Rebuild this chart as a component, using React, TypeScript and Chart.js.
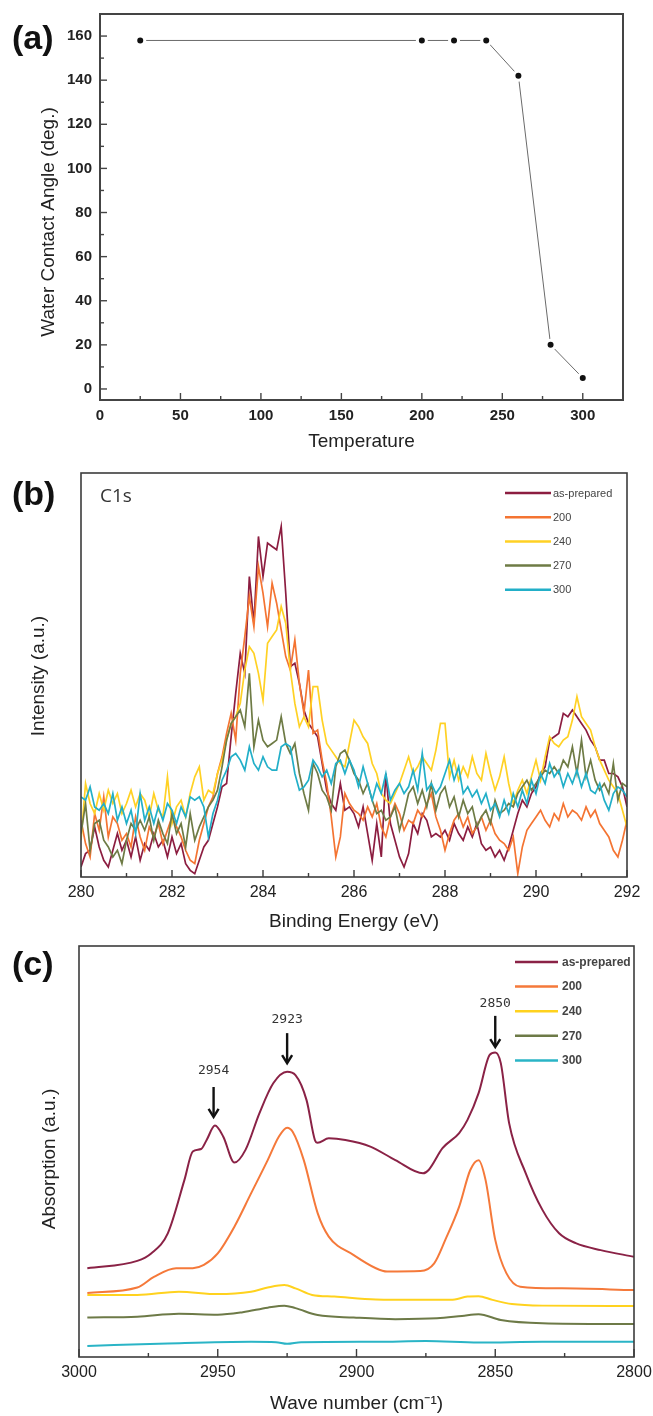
import React, { useEffect, useRef } from "react";
import { Chart, registerables } from "chart.js";

Chart.register(...registerables);

const SANS = '"Liberation Sans", Arial, Helvetica, sans-serif';
Chart.defaults.font.family = SANS;

// ---------------- Panel (a) ----------------
const temperature = [25, 200, 220, 240, 260, 280, 300];
const contactAngle = [158, 158, 158, 158, 142, 20, 5];
const aXTicks = [0, 50, 100, 150, 200, 250, 300];
const aXMinor = [25, 75, 125, 175, 225, 275];
const aYTicks = [0, 20, 40, 60, 80, 100, 120, 140, 160];
const aYMinor = [10, 30, 50, 70, 90, 110, 130, 150];

// ---------------- Panel (b) ----------------
const seriesLabels = ["as-prepared", "200", "240", "270", "300"];
const bindingEnergy = [
  280.0, 280.1, 280.2, 280.3, 280.4, 280.5, 280.6, 280.7, 280.8, 280.9,
  281.0, 281.1, 281.2, 281.3, 281.4, 281.5, 281.6, 281.7, 281.8, 281.9,
  282.0, 282.1, 282.2, 282.3, 282.4, 282.5, 282.6, 282.7, 282.8, 282.9,
  283.0, 283.1, 283.2, 283.3, 283.4, 283.5, 283.6, 283.7, 283.8, 283.9,
  284.0, 284.1, 284.2, 284.3, 284.4, 284.5, 284.6, 284.7, 284.8, 284.9,
  285.0, 285.1, 285.2, 285.3, 285.4, 285.5, 285.6, 285.7, 285.8, 285.9,
  286.0, 286.1, 286.2, 286.3, 286.4, 286.5, 286.6, 286.7, 286.8, 286.9,
  287.0, 287.1, 287.2, 287.3, 287.4, 287.5, 287.6, 287.7, 287.8, 287.9,
  288.0, 288.1, 288.2, 288.3, 288.4, 288.5, 288.6, 288.7, 288.8, 288.9,
  289.0, 289.1, 289.2, 289.3, 289.4, 289.5, 289.6, 289.7, 289.8, 289.9,
  290.0, 290.1, 290.2, 290.3, 290.4, 290.5, 290.6, 290.7, 290.8, 290.9,
  291.0, 291.1, 291.2, 291.3, 291.4, 291.5, 291.6, 291.7, 291.8, 291.9,
  292.0,
];
const xpsAsPrepared = [
  3, 7, 8, 15, 9, 5, 3, 8, 13, 8,
  11, 6, 12, 5, 10, 8, 13, 9, 11, 6,
  12, 7, 10, 4, 2, 1, 5, 9, 11, 16,
  21, 27, 28, 42, 55, 67, 61, 90, 76, 102,
  90, 100, 99, 98, 105, 85, 63, 64, 58, 50,
  46, 44, 42, 34, 26, 22, 20, 28, 20, 21,
  19, 15, 21, 13, 5, 16, 6, 31, 16, 11,
  6, 3, 7, 16, 13, 19, 17, 12, 13, 12,
  14, 11, 16, 13, 11, 15, 12, 16, 10, 8,
  9, 6, 8, 5, 9, 14, 19, 23, 21, 25,
  27, 31, 33, 41, 42, 43, 49, 48, 50, 48,
  46, 44, 41, 39, 35, 35, 31, 31, 30, 27,
  21,
];
const xps200 = [
  17, 10, 6, 19, 14, 24, 12, 18, 16, 11,
  13, 9, 18, 12, 8, 15, 12, 16, 10, 14,
  18, 15, 12, 8, 5, 4, 11, 16, 21, 24,
  31, 36, 43, 49, 41, 61, 72, 84, 75, 93,
  85, 75, 88, 82, 74, 66, 62, 71, 58, 49,
  62, 43, 44, 35, 28, 18, 6, 12, 25, 22,
  20, 19, 17, 21, 18, 22, 15, 12, 18, 22,
  19, 14, 17, 16, 20, 18, 22, 25, 18, 14,
  8, 13, 17, 19, 15, 18, 13, 15, 18, 14,
  17, 13, 11, 10, 8, 12, 1, 9, 14, 16,
  18, 20, 17, 15, 19, 17, 22, 18, 20, 19,
  17, 21, 18, 20, 16, 14, 12, 8, 6, 11,
  17,
];
const xps240 = [
  11, 28, 22, 19, 25, 20, 26, 22, 25, 19,
  22, 26, 21, 25, 23, 18, 25, 20, 18, 30,
  16, 21, 23, 18, 25, 30, 33, 23, 26, 25,
  31, 35, 41, 46, 48, 52, 62, 69, 67, 61,
  53, 70, 72, 74, 81, 76, 62, 52, 45, 48,
  45, 57, 57, 47, 40, 38, 36, 34, 33, 40,
  47, 45, 42, 40, 34, 31, 25, 23, 22, 25,
  28, 32, 36, 31, 33, 36, 34, 32, 38, 46,
  46, 30, 35, 29, 33, 30, 36, 31, 29, 37,
  31, 26, 30, 36, 28, 22, 26, 29, 25, 30,
  35, 29, 36, 42, 40, 39, 41, 42, 47, 54,
  48, 46, 44, 39, 35, 32, 29, 27, 25, 20,
  15,
];
const xps270 = [
  13, 22, 8, 16, 17, 11, 9, 6, 8, 4,
  11, 16, 14, 17, 14, 18, 11, 17, 13, 10,
  19, 13, 16, 9, 19, 11, 15, 18, 21, 23,
  26, 33, 41, 46, 48, 50, 45, 61, 39, 47,
  41, 39, 40, 41, 48, 40, 37, 40, 31, 25,
  20, 34, 31, 26, 24, 20, 33, 37, 38, 35,
  31, 29, 25, 28, 23, 19, 20, 17, 18, 21,
  14, 19, 25, 27, 22, 26, 21, 28, 20, 25,
  27, 21, 24, 18, 23, 19, 21, 15, 18, 20,
  16, 23, 19, 20, 22, 21, 25, 27, 29, 26,
  28, 30, 32, 31, 33, 31, 35, 33, 39, 31,
  41, 30, 35, 29, 26, 28, 25, 34, 23, 28,
  27,
];
const xps300 = [
  24, 23, 27, 21, 20, 22, 19, 25, 17, 21,
  16, 20, 13, 25, 17, 21, 16, 21, 17, 22,
  20, 16, 21, 18, 24, 23, 24, 21, 12, 19,
  23, 29, 32, 36, 37, 35, 32, 39, 34, 32,
  36, 33, 32, 32, 39, 40, 39, 31, 26, 27,
  29, 35, 33, 30, 32, 28, 34, 35, 31, 35,
  32, 27, 33, 28, 23, 28, 25, 31, 23, 26,
  28, 25, 27, 32, 26, 37, 26, 28, 25, 27,
  31, 35, 29, 33, 25, 27, 24, 26, 22, 25,
  20, 22, 18, 23, 19, 25, 21, 26, 22, 29,
  25, 31, 28, 34, 30, 32, 27, 31, 28, 32,
  27, 31, 26, 25, 28, 23, 20, 25, 27, 26,
  24,
];
const bXTicks = [280, 282, 284, 286, 288, 290, 292];
const bXMinor = [281, 283, 285, 287, 289, 291];

// ---------------- Panel (c) ----------------
const irAsPreparedWN = [2997, 2979, 2974, 2968, 2962, 2959, 2956, 2954, 2951, 2948, 2944, 2940, 2935, 2930, 2925, 2922, 2918, 2915, 2914, 2910, 2904, 2895, 2886, 2876, 2874, 2869, 2863, 2860, 2856, 2852, 2850, 2848, 2845, 2839, 2833, 2827, 2821, 2812, 2800];
const irAsPreparedAbs = [21.6, 23.4, 25.2, 30.1, 43.1, 50.0, 50.6, 52.8, 56.3, 53.6, 47.3, 50.4, 59.3, 66.6, 69.4, 68.6, 62.5, 52.8, 52.1, 53.2, 52.8, 51.2, 47.9, 44.7, 45.5, 50.8, 54.5, 57.7, 64.2, 73.5, 74.1, 71.5, 56.9, 44.7, 35.8, 30.1, 27.7, 26.0, 24.4];
const ir200WN = [2997, 2979, 2973, 2965, 2959, 2955, 2950, 2944, 2938, 2932, 2928, 2925, 2923, 2919, 2914, 2910, 2901, 2893, 2889, 2877, 2872, 2868, 2863, 2859, 2856, 2853.5, 2850, 2846, 2841, 2826, 2800];
const ir200Abs = [15.6, 16.9, 19.5, 21.6, 21.6, 22.4, 25.2, 31.7, 39.8, 47.9, 53.6, 55.8, 54.8, 47.9, 35.0, 29.3, 24.8, 21.6, 20.8, 20.9, 22.8, 28.5, 36.6, 45.5, 47.9, 43.1, 28.5, 20.4, 17.1, 16.7, 16.3];
const ir240WN = [2997, 2979, 2964, 2950, 2938, 2932, 2926, 2922, 2916, 2908, 2893, 2878, 2866, 2860, 2856, 2851, 2844, 2833, 2800];
const ir240Abs = [15.1, 15.1, 15.9, 15.3, 15.9, 16.9, 17.5, 16.7, 15.1, 14.7, 14.0, 13.9, 13.9, 14.7, 14.8, 13.9, 12.9, 12.5, 12.4];
const ir270WN = [2997, 2979, 2964, 2950, 2941, 2932, 2926, 2922, 2914, 2901, 2886, 2871, 2862, 2856, 2848, 2833, 2800];
const ir270Abs = [9.6, 9.8, 10.5, 10.3, 10.9, 12.0, 12.5, 11.9, 10.2, 9.6, 9.2, 9.4, 10.0, 10.4, 9.0, 8.2, 8.0];
const ir300WN = [2997, 2968, 2938, 2929, 2925, 2920, 2893, 2875, 2856, 2833, 2800];
const ir300Abs = [2.7, 3.3, 3.7, 3.6, 3.2, 3.6, 3.7, 3.9, 3.5, 3.7, 3.7];
const cXTicks = [3000, 2950, 2900, 2850, 2800];
const cXMinor = [2975, 2925, 2875, 2825];
const peakLabels = ["2954", "2923", "2850"];
const peakArrowX = [2951.5, 2925, 2850];
const peakTextY = [69.6, 82.0, 86.1];
const peakArrowTop = [65.7, 78.8, 83.0];
const peakArrowTip = [58.4, 71.5, 75.4];

// ---------------- styles ----------------
const COLORS_B = ["#8C1D40", "#F47432", "#FFD124", "#6E7B45", "#22AFC8"];
const COLORS_C = ["#8A2246", "#F5793A", "#FFD21E", "#6D7A47", "#2AB4C6"];

const decorPlugin = {
  id: "decor",
  afterDraw(chart: any, _args: any, o: any) {
    const { ctx, chartArea: ca, scales } = chart;
    const xs = scales.x;
    const ys = scales.y;
    ctx.save();
    // frame
    ctx.strokeStyle = o.frameColor;
    ctx.lineWidth = o.frameWidth;
    ctx.strokeRect(ca.left, ca.top, ca.right - ca.left, ca.bottom - ca.top);
    // inward ticks
    ctx.lineWidth = o.tickWidth;
    const vline = (v: number, len: number) => {
      const p = xs.getPixelForValue(v);
      ctx.beginPath();
      ctx.moveTo(p, ca.bottom);
      ctx.lineTo(p, ca.bottom - len);
      ctx.stroke();
    };
    const hline = (v: number, len: number) => {
      const p = ys.getPixelForValue(v);
      ctx.beginPath();
      ctx.moveTo(ca.left, p);
      ctx.lineTo(ca.left + len, p);
      ctx.stroke();
    };
    (o.xMajor || []).forEach((v: number) => vline(v, o.majorLen));
    (o.xMinor || []).forEach((v: number) => vline(v, o.minorLen));
    (o.yMajor || []).forEach((v: number) => hline(v, o.majorLen));
    (o.yMinor || []).forEach((v: number) => hline(v, o.minorLen));
    // legend
    if (o.legend) {
      const L = o.legend;
      chart.data.datasets.forEach((ds: any, i: number) => {
        const y = ca.top + L.top + i * L.gap;
        ctx.strokeStyle = ds.borderColor;
        ctx.lineWidth = L.lineWidth;
        ctx.beginPath();
        ctx.moveTo(ca.right - L.x0, y);
        ctx.lineTo(ca.right - L.x1, y);
        ctx.stroke();
        ctx.fillStyle = L.color;
        ctx.font = L.font;
        ctx.textAlign = "left";
        ctx.textBaseline = "middle";
        ctx.fillText(ds.label, ca.right - L.tx, y + 0.5);
      });
    }
    // peak arrows
    if (o.arrows) {
      const A = o.arrows;
      A.labels.forEach((lab: string, i: number) => {
        const px = xs.getPixelForValue(A.x[i]);
        const ty = ys.getPixelForValue(A.textY[i]);
        const y0 = ys.getPixelForValue(A.top[i]);
        const y1 = ys.getPixelForValue(A.tip[i]);
        ctx.fillStyle = A.textColor;
        ctx.font = A.font;
        ctx.textAlign = "center";
        ctx.textBaseline = "middle";
        ctx.fillText(lab, px, ty);
        ctx.strokeStyle = A.color;
        ctx.lineWidth = A.width;
        ctx.lineCap = "butt";
        ctx.beginPath();
        ctx.moveTo(px, y0);
        ctx.lineTo(px, y1 - 1);
        ctx.stroke();
        ctx.lineJoin = "miter";
        ctx.beginPath();
        ctx.moveTo(px - A.headW / 2, y1 - A.head);
        ctx.lineTo(px, y1);
        ctx.lineTo(px + A.headW / 2, y1 - A.head);
        ctx.stroke();
      });
    }
    // free texts (panel letters, axis titles)
    (o.texts || []).forEach((t: any) => {
      ctx.save();
      ctx.font = t.font;
      ctx.fillStyle = t.color;
      ctx.textAlign = t.align || "left";
      ctx.textBaseline = "middle";
      ctx.translate(t.x, t.y);
      if (t.rotate) ctx.rotate(t.rotate);
      ctx.fillText(t.text, 0, 0);
      ctx.restore();
    });
    ctx.restore();
  },
};

const numLabel = (v: any) => String(v);
const fixXFit = (h: number) => (s: any) => {
  s.height = h;
  s.paddingLeft = 0;
  s.paddingRight = 0;
};

function configA(): any {
  return {
    type: "line",
    data: {
      datasets: [
        {
          label: "Water Contact Angle",
          data: temperature.map((t, i) => ({ x: t, y: contactAngle[i] })),
          borderColor: "#6a6a6a",
          borderWidth: 1,
          pointRadius: 4.5,
          pointBorderWidth: 3,
          pointBackgroundColor: "#111",
          pointBorderColor: "#fff",
          tension: 0,
        },
      ],
    },
    options: {
      responsive: false,
      animation: false,
      devicePixelRatio: 1,
      layout: { padding: { left: 0, right: 30, top: 14, bottom: 0 } },
      plugins: {
        legend: { display: false },
        tooltip: { enabled: false },
        decor: {
          frameColor: "#444",
          frameWidth: 2,
          tickWidth: 1.4,
          majorLen: 7,
          minorLen: 4,
          xMajor: aXTicks,
          xMinor: aXMinor,
          yMajor: aYTicks,
          yMinor: aYMinor,
          texts: [
            { text: "(a)", x: 12, y: 40, font: `bold 34px ${SANS}`, color: "#111" },
            { text: "Water Contact Angle (deg.)", x: 49, y: 222, font: `19px ${SANS}`, color: "#222", align: "center", rotate: -Math.PI / 2 },
          ],
        },
      },
      scales: {
        x: {
          type: "linear",
          min: 0,
          max: 325,
          grid: { display: false, drawTicks: false },
          border: { display: false },
          afterBuildTicks: (s: any) => {
            s.ticks = aXTicks.map((v) => ({ value: v }));
          },
          afterFit: fixXFit(60),
          ticks: { font: { size: 15, weight: "bold" }, color: "#222", padding: 7, maxRotation: 0, autoSkip: false, callback: numLabel },
          title: { display: true, text: "Temperature", font: { size: 19 }, color: "#222", padding: { top: 0, bottom: 6.6 } },
        },
        y: {
          type: "linear",
          min: -5,
          max: 170,
          grid: { display: false, drawTicks: false },
          border: { display: false },
          afterBuildTicks: (s: any) => {
            s.ticks = aYTicks.map((v) => ({ value: v }));
          },
          afterFit: (s: any) => {
            s.width = 100;
            s.paddingTop = 0;
            s.paddingBottom = 0;
          },
          ticks: { font: { size: 15, weight: "bold" }, color: "#222", padding: 8, autoSkip: false, callback: numLabel },
        },
      },
    },
    plugins: [decorPlugin],
  };
}

function configB(): any {
  const series = [xpsAsPrepared, xps200, xps240, xps270, xps300];
  return {
    type: "line",
    data: {
      datasets: series.map((vals, k) => ({
        label: seriesLabels[k],
        data: bindingEnergy.map((e, i) => ({ x: e, y: vals[i] })),
        borderColor: COLORS_B[k],
        borderWidth: 1.7,
        pointRadius: 0,
        tension: 0,
        order: 4 - k,
      })),
    },
    options: {
      responsive: false,
      animation: false,
      devicePixelRatio: 1,
      layout: { padding: { left: 81, right: 26, top: 13, bottom: 0 } },
      plugins: {
        legend: { display: false },
        tooltip: { enabled: false },
        decor: {
          frameColor: "#3c3c3c",
          frameWidth: 1.6,
          tickWidth: 1.4,
          majorLen: 7,
          minorLen: 4,
          xMajor: bXTicks,
          xMinor: bXMinor,
          legend: { top: 20, gap: 24.2, x0: 122, x1: 76, tx: 74, lineWidth: 2.5, font: `11px ${SANS}`, color: "#444" },
          texts: [
            { text: "(b)", x: 12, y: 36, font: `bold 34px ${SANS}`, color: "#111" },
            { text: "C1s", x: 100, y: 37, font: `19px "Open Sans", ${SANS}`, color: "#333" },
            { text: "Intensity (a.u.)", x: 38.5, y: 216, font: `19px ${SANS}`, color: "#222", align: "center", rotate: -Math.PI / 2 },
          ],
        },
      },
      scales: {
        x: {
          type: "linear",
          min: 280,
          max: 292,
          grid: { display: false, drawTicks: false },
          border: { display: false },
          afterBuildTicks: (s: any) => {
            s.ticks = bXTicks.map((v) => ({ value: v }));
          },
          afterFit: fixXFit(63),
          ticks: { font: { size: 16 }, color: "#222", padding: 6.4, maxRotation: 0, autoSkip: false, callback: numLabel },
          title: { display: true, text: "Binding Energy (eV)", font: { size: 19 }, color: "#222", padding: { top: 0, bottom: 6.6 } },
        },
        y: { type: "linear", display: false, min: 0, max: 121 },
      },
    },
    plugins: [decorPlugin],
  };
}

function configC(): any {
  const xs = [irAsPreparedWN, ir200WN, ir240WN, ir270WN, ir300WN];
  const ys = [irAsPreparedAbs, ir200Abs, ir240Abs, ir270Abs, ir300Abs];
  return {
    type: "line",
    data: {
      datasets: xs.map((wn, k) => ({
        label: seriesLabels[k],
        data: wn.map((w, i) => ({ x: w, y: ys[k][i] })),
        borderColor: COLORS_C[k],
        borderWidth: 2,
        pointRadius: 0,
        tension: 0.4,
        cubicInterpolationMode: "monotone",
        order: 4 - k,
      })),
    },
    options: {
      responsive: false,
      animation: false,
      devicePixelRatio: 1,
      layout: { padding: { left: 79, right: 19, top: 6, bottom: 0 } },
      plugins: {
        legend: { display: false },
        tooltip: { enabled: false },
        decor: {
          frameColor: "#3c3c3c",
          frameWidth: 1.6,
          tickWidth: 1.4,
          majorLen: 8,
          minorLen: 4,
          xMajor: cXTicks,
          xMinor: cXMinor,
          legend: { top: 16, gap: 24.6, x0: 119, x1: 76, tx: 72, lineWidth: 2.5, font: `bold 12px ${SANS}`, color: "#444" },
          arrows: {
            labels: peakLabels,
            x: peakArrowX,
            textY: peakTextY,
            top: peakArrowTop,
            tip: peakArrowTip,
            color: "#111",
            width: 2.4,
            head: 8,
            headW: 10,
            textColor: "#333",
            font: `13px "DejaVu Sans Mono", monospace`,
          },
          texts: [
            { text: "(c)", x: 12, y: 26, font: `bold 34px ${SANS}`, color: "#111" },
            { text: "Absorption (a.u.)", x: 50, y: 219, font: `19px ${SANS}`, color: "#222", align: "center", rotate: -Math.PI / 2 },
          ],
        },
      },
      scales: {
        x: {
          type: "linear",
          reverse: true,
          min: 2800,
          max: 3000,
          grid: { display: false, drawTicks: false },
          border: { display: false },
          afterBuildTicks: (s: any) => {
            s.ticks = cXTicks.map((v) => ({ value: v }));
          },
          afterFit: fixXFit(59),
          ticks: { font: { size: 16 }, color: "#222", padding: 6.4, maxRotation: 0, autoSkip: false, callback: numLabel },
          title: { display: true, text: "Wave number (cm\u207B\u00B9)", font: { size: 19 }, color: "#222", padding: { top: 0, bottom: 1.1 } },
        },
        y: { type: "linear", display: false, min: 0, max: 100 },
      },
    },
    plugins: [decorPlugin],
  };
}

function Panel({ top, height, make }: { top: number; height: number; make: () => any }) {
  const ref = useRef<HTMLCanvasElement>(null);
  useEffect(() => {
    const chart = new Chart(ref.current as HTMLCanvasElement, make());
    return () => chart.destroy();
  }, []);
  return (
    <div style={{ position: "absolute", left: 0, top, width: 653, height }}>
      <canvas ref={ref} width={653} height={height} style={{ display: "block", width: 653, height }} />
    </div>
  );
}

export default function App() {
  return (
    <div style={{ position: "absolute", left: 0, top: 0, width: 653, height: 1416, background: "#fff", overflow: "hidden" }}>
      <Panel top={0} height={460} make={configA} />
      <Panel top={460} height={480} make={configB} />
      <Panel top={940} height={476} make={configC} />
    </div>
  );
}
